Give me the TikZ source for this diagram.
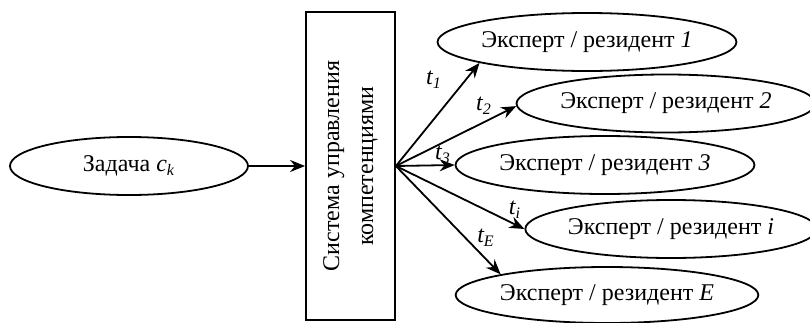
\documentclass[tikz,border=0pt]{standalone}
\usepackage{fontspec}
\setmainfont{Liberation Serif}
\usetikzlibrary{shapes.geometric,arrows.meta}
\begin{document}
\begin{tikzpicture}[x=0.5pt,y=-0.5pt,
  every node/.style={font=\fontsize{12}{17}\selectfont},
  ell/.style={draw, ellipse, line width=0.9pt, inner sep=0pt, minimum width=145pt, minimum height=29pt},
  box/.style={draw, rectangle, line width=0.9pt, inner sep=0pt, minimum width=44.5pt, minimum height=154pt},
  arr/.style={line width=0.9pt, -{Stealth[length=7.5pt,width=6pt]}},
  lbl/.style={inner sep=0pt}
]
\useasboundingbox (0,0) rectangle (810,322);
\node[ell, minimum width=119pt] (task) at (129,166) {Задача \textit{c\textsubscript{k}}};
\node[box] (sys) at (350.5,166) {};
\node[rotate=90, align=center, inner sep=0pt] (syst) at (350.5,166) {Система управления\\компетенциями};
\node[ell] (e1) at (587,42) {Эксперт / резидент \textit{1}};
\node[ell, minimum width=143.5pt] (e2) at (666,103.5) {Эксперт / резидент \textit{2}};
\node[ell] (e3) at (605,165) {Эксперт / резидент \textit{3}};
\node[ell, minimum width=139pt] (ei) at (671,229) {Эксперт / резидент \textit{i}};
\node[ell, minimum height=28pt] (eE) at (607,295) {Эксперт / резидент \textit{E}};
\draw[arr] (task) -- (sys.west);
\draw[arr] (sys.east) -- (e1.191);
\draw[arr] (sys.east) -- (e2.181);
\draw[arr] (sys.east) -- (e3.west);
\draw[arr] (sys.east) -- (ei.west);
\draw[arr] (sys.east) -- (eE.169);
\node[lbl] (l1) at (434,80) {\textit{t\textsubscript{1}}};
\node[lbl] (l2) at (484,106) {\textit{t\textsubscript{2}}};
\node[lbl] (l3) at (443,155) {\textit{t\textsubscript{3}}};
\node[lbl] (li) at (515,210) {\textit{t\textsubscript{i}}};
\node[lbl] (lE) at (486,238) {\textit{t\textsubscript{E}}};
\end{tikzpicture}
\end{document}
